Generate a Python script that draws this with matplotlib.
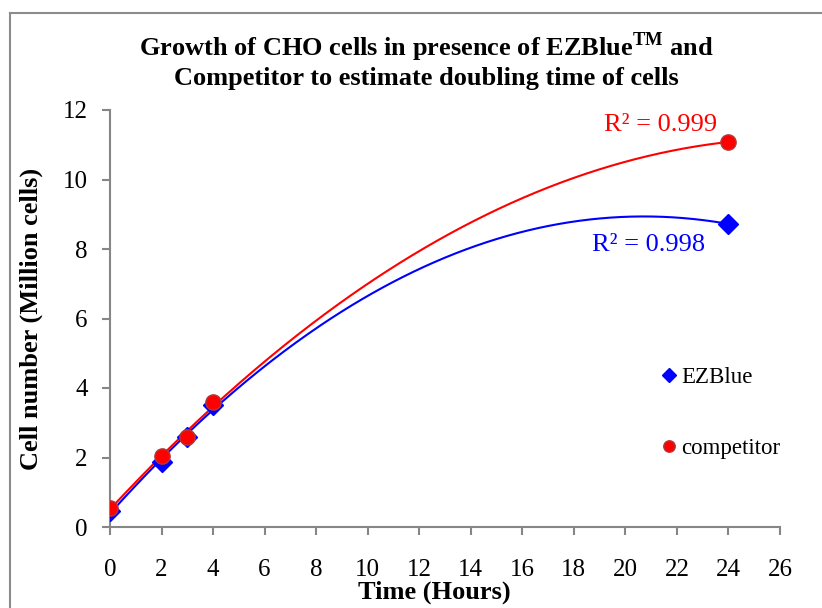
import numpy as np
import matplotlib
matplotlib.use("Agg")
import matplotlib.pyplot as plt
from matplotlib.lines import Line2D

plt.rcParams['font.family'] = ['Liberation Serif', 'DejaVu Serif']
plt.rcParams['mathtext.fontset'] = 'custom'
plt.rcParams['mathtext.rm'] = 'Liberation Serif'
plt.rcParams['mathtext.bf'] = 'Liberation Serif:bold'

# Data
time_hours = [0, 2, 3, 4, 24]
ezblue = [0.45, 1.88, 2.58, 3.50, 8.72]
competitor = [0.55, 2.04, 2.60, 3.60, 11.08]
x_ticks = list(range(0, 27, 2))
y_ticks = list(range(0, 13, 2))
r2_ezblue = "R\u00b2 = 0.998"
r2_comp = "R\u00b2 = 0.999"

W, H = 822, 608
fig = plt.figure(figsize=(W / 100, H / 100), dpi=100)
ax = fig.add_axes([110 / W, 1 - 527 / H, (780 - 110) / W, (527 - 110) / H])

grey = '#868686'
blue = '#0000ff'
red = '#ff0000'

# trendlines (2nd order polynomial)
xs = np.linspace(0, 24, 300)
pb = np.polyfit(time_hours, ezblue, 2)
pc = np.polyfit(time_hours, competitor, 2)
ax.plot(xs, np.polyval(pb, xs), color=blue, lw=1.5, zorder=2)
ax.plot(xs, np.polyval(pc, xs), color=red, lw=1.5, zorder=2)

ax.plot(time_hours, ezblue, linestyle='none', marker='D', ms=10, color=blue,
        mec=blue, label='EZBlue', zorder=3)
ax.plot(time_hours, competitor, linestyle='none', marker='o', ms=11, color=red,
        mec='#b03a3a', mew=1.0, label='competitor', zorder=3)

ax.set_xlim(0, 26)
ax.set_ylim(0, 12)
ax.set_xticks(x_ticks)
ax.set_yticks(y_ticks)
ax.tick_params(axis='both', direction='out', length=6, width=1.5, color=grey,
               labelsize=18, pad=10)
ax.tick_params(axis='x', pad=17)
for s in ['top', 'right']:
    ax.spines[s].set_visible(False)
for s in ['left', 'bottom']:
    ax.spines[s].set_color(grey)
    ax.spines[s].set_linewidth(1.5)

ax.set_xlabel('Time (Hours)', fontsize=19, fontweight='bold')
ax.xaxis.set_label_coords((434 - 110) / (780 - 110), -(581 - 527) / (527 - 110))
ax.set_ylabel('Cell number (Million cells)', fontsize=19, fontweight='bold', labelpad=14)

ax.text(21.35, 11.56, r2_comp, color=red, fontsize=19, ha='center', va='center')
ax.text(20.9, 8.12, r2_ezblue, color=blue, fontsize=19, ha='center', va='center')

leg = ax.legend(loc='upper left', bbox_to_anchor=(0.81, 0.405), frameon=False,
                fontsize=16.5, handlelength=0.6, handletextpad=0.25,
                labelspacing=2.15, markerscale=0.75, borderaxespad=0)

fig.text(0.519, 1 - 47 / H,
         r"Growth of CHO cells in presence of EZBlue$^{\mathbf{TM}}$ and",
         ha='center', va='center', fontsize=19, fontweight='bold')
fig.text(0.519, 1 - 79 / H,
         "Competitor to estimate doubling time of cells",
         ha='center', va='center', fontsize=19, fontweight='bold')

# outer chart frame
fig.add_artist(Line2D([10 / W, 10 / W], [-0.1, 1 - 13 / H], transform=fig.transFigure,
                      color='#8c8c8c', lw=1.5))
fig.add_artist(Line2D([10 / W, 1.1], [1 - 13 / H, 1 - 13 / H], transform=fig.transFigure,
                      color='#8c8c8c', lw=1.5))

fig.savefig('out.png', dpi=100)
